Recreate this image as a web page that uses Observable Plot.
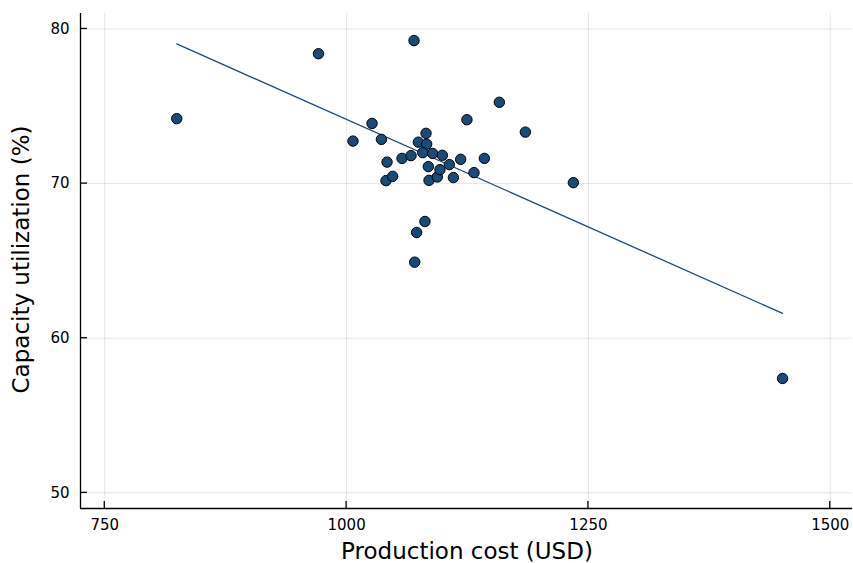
<!DOCTYPE html>
<html>
<head>
<meta charset="utf-8">
<script src="https://cdn.jsdelivr.net/npm/d3@7"></script>
<script src="https://cdn.jsdelivr.net/npm/@observablehq/plot@0.6"></script>
<style>
  html, body { margin: 0; padding: 0; background: #fff; }
  svg { display: block; }
</style>
</head>
<body>
<div id="chart"></div>
<script>
const cost = [824.4, 970.9, 1069.7, 1234.4, 1450.7,
  1006.6, 1026.3, 1036.0, 1041.8, 1040.7, 1047.6, 1057.3, 1066.6, 1074.2, 1082.1,
  1082.8, 1078.7, 1089.0, 1099.0, 1084.5, 1085.2, 1093.8, 1096.5, 1106.2, 1110.4,
  1117.9, 1131.7, 1142.4, 1124.4, 1157.9, 1184.8, 1081.0, 1072.4, 1070.4];
const utilization = [74.2, 78.4, 79.25, 70.06, 57.4,
  72.75, 73.89, 72.86, 71.39, 70.19, 70.47, 71.63, 71.81, 72.68, 73.25,
  72.55, 72.0, 71.95, 71.83, 71.1, 70.21, 70.43, 70.9, 71.23, 70.39,
  71.57, 70.71, 71.63, 74.13, 75.26, 73.33, 67.55, 66.84, 64.92];
const trendCost = [824.4, 1450.7];
const trendUtil = [79.03, 61.61];
const xTicks = [750, 1000, 1250, 1500];
const yTicks = [50, 60, 70, 80];
const xDomain = [724.9, 1523];
const yDomain = [48.99, 81.0];

const points = cost.map((c, i) => ({x: c, y: utilization[i]}));
const trend = trendCost.map((c, i) => ({x: c, y: trendUtil[i]}));
const color = "#1b4a77";

const chart = Plot.plot({
  width: 853,
  height: 563,
  marginLeft: 80,
  marginRight: 1,
  marginTop: 13,
  marginBottom: 55,
  style: {fontFamily: "DejaVu Sans", fontSize: "15px", color: "#000", background: "#fff"},
  x: {domain: xDomain},
  y: {domain: yDomain},
  marks: [
    Plot.gridX(xTicks, {stroke: "#000", strokeOpacity: 0.1, strokeWidth: 1}),
    Plot.gridY(yTicks, {stroke: "#000", strokeOpacity: 0.1, strokeWidth: 1}),
    Plot.axisX(xTicks, {tickSize: 0, tickPadding: 11, label: null, tickFormat: d => String(d)}),
    Plot.axisY(yTicks, {tickSize: 0, tickPadding: 11, label: null, tickFormat: d => String(d)}),
    Plot.ruleY([yDomain[0]], {stroke: "#000", strokeWidth: 1.3}),
    Plot.ruleX([xDomain[0]], {stroke: "#000", strokeWidth: 1.3}),
    Plot.line(trend, {x: "x", y: "y", stroke: color, strokeWidth: 1.3}),
    Plot.dot(points, {x: "x", y: "y", r: 5.2, fill: color, stroke: "#000", strokeWidth: 1})
  ]
});

const sx = chart.scale("x"), sy = chart.scale("y");
const svg = d3.select(chart);
svg.selectAll('g[aria-label$="tick label"]').attr("font-size", 15);
svg.selectAll('g[aria-label$="tick label"] text').attr("font-size", 15);
const x0 = sx.apply(xDomain[0]), y0 = sy.apply(yDomain[0]);
const tg = svg.append("g").attr("stroke", "#000").attr("stroke-width", 1.3);
xTicks.forEach(t => {
  const px = sx.apply(t);
  tg.append("line").attr("x1", px).attr("x2", px).attr("y1", y0).attr("y2", y0 - 7);
});
yTicks.forEach(t => {
  const py = sy.apply(t);
  tg.append("line").attr("x1", x0).attr("x2", x0 + 7).attr("y1", py).attr("y2", py);
});

svg.append("text")
  .attr("x", 467).attr("y", 559)
  .attr("text-anchor", "middle")
  .style("font-family", "DejaVu Sans")
  .style("font-size", "23px")
  .text("Production cost (USD)");
svg.append("text")
  .attr("transform", "translate(29,259.5) rotate(-90)")
  .attr("text-anchor", "middle")
  .style("font-family", "DejaVu Sans")
  .style("font-size", "23px")
  .text("Capacity utilization (%)");

document.getElementById("chart").appendChild(chart);
</script>
</body>
</html>
